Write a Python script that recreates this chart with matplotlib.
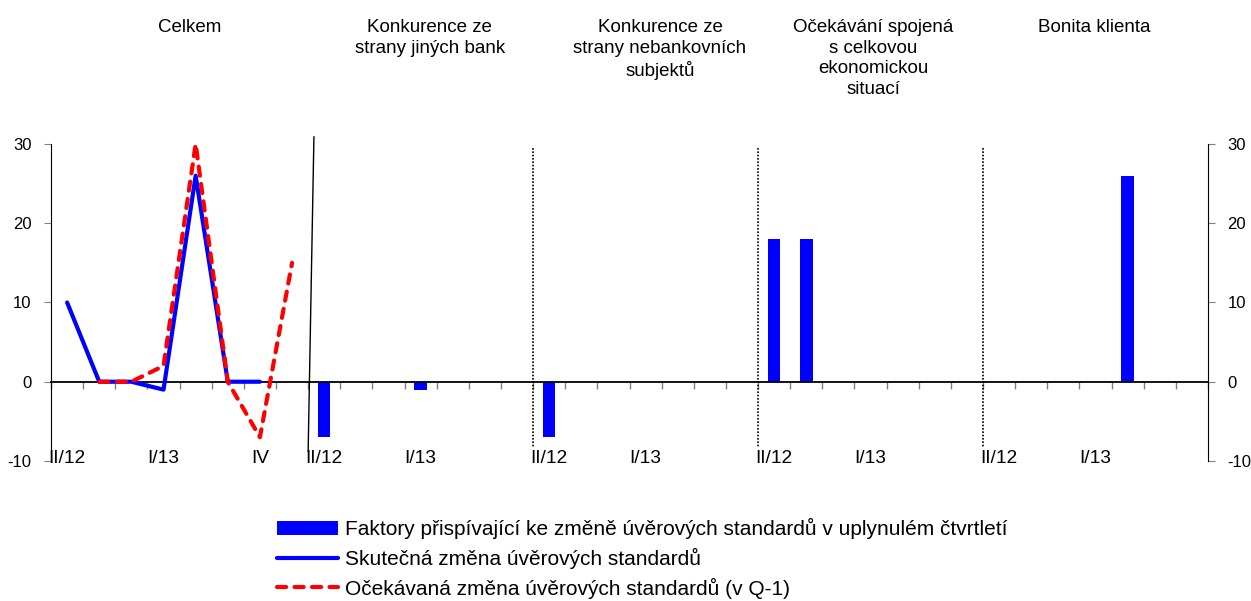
import numpy as np
import matplotlib
matplotlib.use("Agg")
import matplotlib.pyplot as plt
import matplotlib.transforms as mtransforms

plt.rcParams['font.family'] = ['Liberation Sans', 'DejaVu Sans']
plt.rcParams['axes.unicode_minus'] = False

# popisky ctvrtleti (36 kategorii: Celkem 8, pak 4 skupiny po 7)
labels_celkem = ["II/12", "", "", "I/13", "", "", "IV", ""]
labels_skupina = ["II/12", "", "", "I/13", "", "", ""]
labels = labels_celkem + labels_skupina * 4

# Celkem - skutecna a ocekavana zmena
skutecna = [10, 0, 0, -1, 26, 0, 0, np.nan]
ocekavana = [np.nan, 0, 0, 2, 30, 0, -7, 15]

# faktory (sloupce) po skupinach
faktory_celkem = [0, 0, 0, 0, 0, 0, 0, 0]
faktory_banky = [-7, 0, 0, -1, 0, 0, 0]
faktory_nebank = [-7, 0, 0, 0, 0, 0, 0]
faktory_ocekavani = [18, 18, 0, 0, 0, 0, 0]
faktory_bonita = [0, 0, 0, 0, 26, 0, 0]
faktory = faktory_celkem + faktory_banky + faktory_nebank + faktory_ocekavani + faktory_bonita

nadpisy = ["Celkem",
           "Konkurence ze\nstrany jiných bank",
           "Konkurence ze\nstrany nebankovních\nsubjektů",
           "Očekávání spojená\ns celkovou\nekonomickou\nsituací",
           "Bonita klienta"]
nadpisy_x = [3.82, 11.29, 18.45, 25.08, 31.95]

leg_faktory = "Faktory přispívající ke změně úvěrových standardů v uplynulém čtvrtletí"
leg_skutecna = "Skutečná změna úvěrových standardů"
leg_ocekavana = "Očekávaná změna úvěrových standardů (v Q-1)"

fs = 13.5
n = len(labels)
x = np.arange(n)

fig = plt.figure(figsize=(12.51, 6.01), dpi=100)
ax = fig.add_axes([0.0408, 0.2330, 0.9248, 0.5274])

b = ax.bar(x, faktory, width=0.39, color='#0000FF', linewidth=0, label=leg_faktory, zorder=2)
l1, = ax.plot(x[:8], skutecna, color='#0000FF', lw=3, solid_capstyle='round',
              label=leg_skutecna, zorder=3)
l2, = ax.plot(x[:8], ocekavana, color='#FF0000', lw=3, dashes=(2.2, 2.0),
              dash_capstyle='round', label=leg_ocekavana, zorder=4)

ax.set_xlim(-0.5, n - 0.5)
ax.set_ylim(-10, 30)
ax.set_yticks([-10, 0, 10, 20, 30])

# osa x v nule, carky na hranicich kategorii
ax.spines['bottom'].set_position(('data', 0))
ax.spines['bottom'].set_linewidth(1.3)
ax.spines['top'].set_visible(False)
ax.set_xticks(np.arange(n + 1) - 0.5)
ax.tick_params(axis='x', labelbottom=False, length=5, color='grey', width=1)
ax.tick_params(axis='y', left=True, right=True, labelleft=True, labelright=True,
               length=5, color='grey', pad=9, labelsize=12)

# popisky ctvrtleti dole
secax = ax.secondary_xaxis(0.035)
secax.set_xticks(x, labels)
secax.tick_params(length=0, pad=0, labelsize=13.8)
secax.spines['bottom'].set_visible(False)

# oddelovace skupin
ax.plot([7.68, 7.5], [30.9, -8.8], color='black', lw=1, clip_on=False)
for hx in [14.5, 21.5, 28.5]:
    ax.plot([hx, hx], [29.5, -8.2], color='black', lw=1.2, ls=(0, (1, 1)), clip_on=False)

# nadpisy skupin
trans = mtransforms.blended_transform_factory(ax.transData, fig.transFigure)
for t, tx in zip(nadpisy, nadpisy_x):
    ax.text(tx, 0.969, t, transform=trans, ha='center', va='top', fontsize=fs,
            linespacing=1.3, multialignment='center')

fig.legend(handles=[b, l1, l2], loc='upper left', bbox_to_anchor=(0.2215, 0.138),
           frameon=False, fontsize=15, handlelength=2.9, handletextpad=0.38,
           labelspacing=0.42, borderpad=0, borderaxespad=0)

fig.savefig("out.png", dpi=100)
